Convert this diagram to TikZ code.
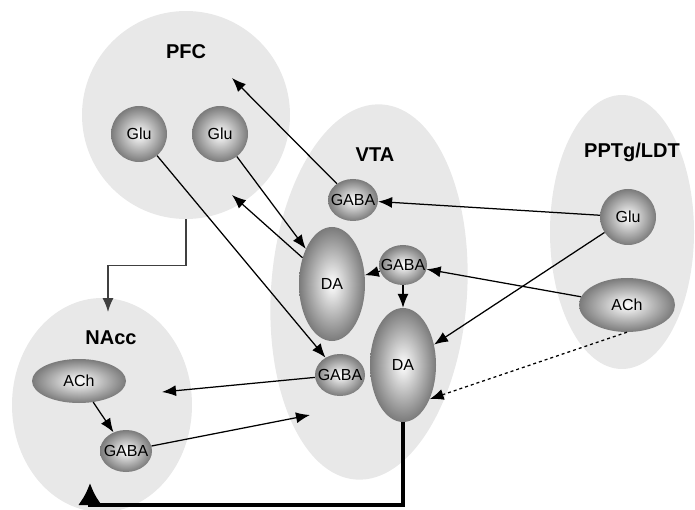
\documentclass[tikz,border=0pt]{standalone}
\usepackage{fontspec}
\setmainfont{Liberation Sans}
\usepackage{tikz}
\usetikzlibrary{shapes,arrows,arrows.meta,calc}
\tikzstyle{line} = [draw, line width=1.25pt, -{Latex[length=14pt,width=11pt]}]
\tikzstyle{region} = [ellipse, fill=black!9, inner sep=0pt]
\tikzstyle{title} = [font=\fontsize{20}{20}\selectfont\bfseries]
\tikzstyle{cell} = [ellipse, shading=radial, inner color=white, outer color=black!52, inner sep=-14pt, font=\fontsize{16}{18}\selectfont]
\tikzstyle{ball} = [cell, circle, minimum size=56pt]
\tikzstyle{small} = [cell, minimum width=50pt, minimum height=42pt]
\tikzstyle{big} = [cell, minimum width=66pt, minimum height=114pt]

\begin{document}
\begin{tikzpicture}[x=1pt, y=-1pt]
		\useasboundingbox (0,0) rectangle (695,510);
		
		% regions
		\node[region, circle, minimum size=208pt] (PFC) at (186,115) {};
		\node[region, minimum width=196pt, minimum height=376pt, rotate=-4] (VTA) at (369,292) {};
		\node[region, minimum width=144pt, minimum height=274pt] (PPTg) at (622,232) {};
		\node[region, minimum width=180pt, minimum height=214pt] (NAcc) at (102,405) {};
		
		\node[title] (PFC_label) at (186,52) {PFC};
		\node[title] (VTA_label) at (375,155) {VTA};
		\node[title] (PPTg_label) at (632,152) {PPTg/LDT};
		\node[title] (NAcc_label) at (111,338) {NAcc};
		
		% cells
		\node[ball] (PFC_Glu_1) at (139,134) {Glu};
		\node[ball] (PFC_Glu_2) at (220,134) {Glu};
		
		\node[small] (VTA_GABA_1) at (353,200) {GABA};
		\node[big] (VTA_DA_1) at (332,284) {DA};
		\node[small, minimum width=48pt, minimum height=40pt] (VTA_GABA_2) at (403,265) {GABA};
		\node[big] (VTA_DA_2) at (403,365) {DA};
		\node[small] (VTA_GABA_3) at (340,375) {GABA};
		
		\node[ball] (PPTg_Glu) at (628,217) {Glu};
		\node[cell, minimum width=96pt, minimum height=54pt] (PPTg_ACh) at (627,305) {ACh};
		
		\node[cell, minimum width=94pt, minimum height=44pt] (NAcc_ACh) at (79,381) {ACh};
		\node[small, minimum width=52pt] (NAcc_GABA) at (126,451) {GABA};
		
		% free ends
		\coordinate (pfc_in_1) at (232,78);
		\coordinate (pfc_in_2) at (232,195);
		\coordinate (nacc_in_1) at (162,392);
		\coordinate (nacc_in_2) at (108,312);
		\coordinate (nacc_in_3) at (90,483);
		\coordinate (vta_in_1) at (310,415);
		
		% connections
		\path [line] (VTA_GABA_1) to (pfc_in_1);
		\path [line] (VTA_DA_1) to (pfc_in_2);
		\path [line] (PFC_Glu_2) to (VTA_DA_1);
		\path [line] (PFC_Glu_1) to (VTA_GABA_3);
		
		\path [line] (PPTg_Glu) to (VTA_GABA_1);
		\path [line] (PPTg_Glu) to (VTA_DA_2);
		\path [line] (PPTg_ACh) to (VTA_GABA_2);
		\path [line, dashed] (PPTg_ACh.south) to (VTA_DA_2.-52);
		
		\path [line] (VTA_GABA_2) to (VTA_DA_1);
		\path [line] (VTA_GABA_2) to (VTA_DA_2);
		
		\path [line] (VTA_GABA_3) to (nacc_in_1);
		\path [line] (NAcc_GABA) to (vta_in_1);
		\path [line] (NAcc_ACh) to (NAcc_GABA);
		
		\path [line, draw=black!75] (PFC.south) -- ++(0,46) -| (nacc_in_2);
		\path [draw, line width=3.8pt, -{Latex[length=22pt,width=24pt]}] (VTA_DA_2.south) -- ++(0,83) -| (nacc_in_3);
		
\end{tikzpicture}
\end{document}
